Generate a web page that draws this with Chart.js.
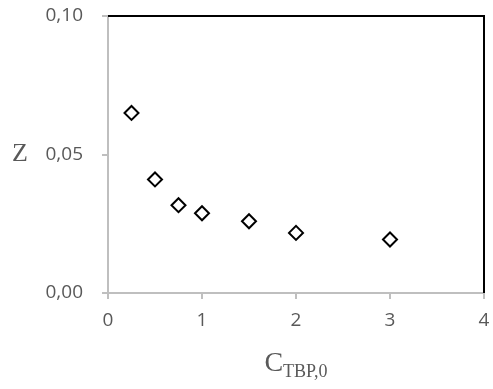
<!DOCTYPE html>
<html>
<head>
<meta charset="utf-8">
<script src="https://cdn.jsdelivr.net/npm/chart.js@4.4.0/dist/chart.umd.min.js"></script>
<style>
  html, body { margin: 0; padding: 0; background: #fff; }
  #wrap { width: 493px; height: 389px; position: relative; }
</style>
</head>
<body>
<div id="wrap"><canvas id="chart-z"></canvas></div>
<script>
// data
const cTbp = [0.25, 0.5, 0.75, 1, 1.5, 2, 3];
const zValues = [0.065, 0.041, 0.0317, 0.0288, 0.0259, 0.0217, 0.0193];
const xTicks = [0, 1, 2, 3, 4];
const yTicks = [0, 0.05, 0.10];

const grey = '#595959';
const axisGrey = '#bfbfbf';

// top/right frame + the two serif axis titles
const frameAndTitles = {
  id: 'frameAndTitles',
  afterDraw(chart) {
    const ctx = chart.ctx;
    const a = chart.chartArea;
    ctx.save();
    ctx.strokeStyle = '#000';
    ctx.lineWidth = 2;
    ctx.beginPath();
    ctx.moveTo(a.left, a.top);
    ctx.lineTo(a.right, a.top);
    ctx.lineTo(a.right, a.bottom);
    ctx.stroke();

    ctx.fillStyle = grey;
    ctx.textAlign = 'left';
    ctx.textBaseline = 'middle';
    ctx.font = '26px "Liberation Serif"';
    ctx.fillText('Z', 12, (a.top + a.bottom) / 2);

    ctx.textBaseline = 'alphabetic';
    ctx.font = '28px "Liberation Serif"';
    const cw = ctx.measureText('C').width;
    ctx.font = '18px "Liberation Serif"';
    const sw = ctx.measureText('TBP,0').width;
    const x0 = (a.left + a.right) / 2 - (cw + sw) / 2;
    ctx.font = '28px "Liberation Serif"';
    ctx.fillText('C', x0, chart.height - 18);
    ctx.font = '18px "Liberation Serif"';
    ctx.fillText('TBP,0', x0 + cw, chart.height - 12);
    ctx.restore();
  }
};

const tickFont = { family: '"Open Sans"', size: 19 };

new Chart(document.getElementById('chart-z').getContext('2d'), {
  type: 'scatter',
  data: {
    datasets: [{
      label: 'Z',
      data: cTbp.map((c, i) => ({ x: c, y: zValues[i] })),
      pointStyle: 'rectRot',
      pointRadius: 7,
      pointHoverRadius: 7,
      pointBorderWidth: 2,
      pointBorderColor: '#000',
      pointBackgroundColor: '#fff'
    }]
  },
  options: {
    responsive: true,
    maintainAspectRatio: false,
    animation: false,
    layout: { padding: { top: 16, right: 7, left: 0, bottom: 0 } },
    plugins: {
      legend: { display: false },
      tooltip: { enabled: false }
    },
    scales: {
      x: {
        type: 'linear',
        min: xTicks[0],
        max: xTicks[xTicks.length - 1],
        afterFit: s => {
          s.height = 96;
          s.paddingLeft = 0;
          s.paddingRight = 0;
        },
        afterBuildTicks: s => { s.ticks = xTicks.map(v => ({ value: v })); },
        grid: {
          display: true,
          drawOnChartArea: false,
          drawTicks: true,
          tickLength: 6,
          color: axisGrey,
          lineWidth: 2
        },
        border: { color: axisGrey, width: 2 },
        ticks: {
          color: grey,
          font: tickFont,
          padding: 10,
          maxRotation: 0,
          callback: v => String(v)
        }
      },
      y: {
        min: yTicks[0],
        max: yTicks[yTicks.length - 1],
        afterFit: s => {
          s.width = 108;
          s.paddingTop = 0;
          s.paddingBottom = 0;
        },
        afterBuildTicks: s => { s.ticks = yTicks.map(v => ({ value: v })); },
        grid: {
          display: true,
          drawOnChartArea: false,
          drawTicks: true,
          tickLength: 6,
          color: axisGrey,
          lineWidth: 2
        },
        border: { color: axisGrey, width: 2 },
        ticks: {
          color: grey,
          font: tickFont,
          padding: 19,
          callback: v => v.toFixed(2).replace('.', ',')
        }
      }
    }
  },
  plugins: [frameAndTitles]
});
</script>
</body>
</html>
